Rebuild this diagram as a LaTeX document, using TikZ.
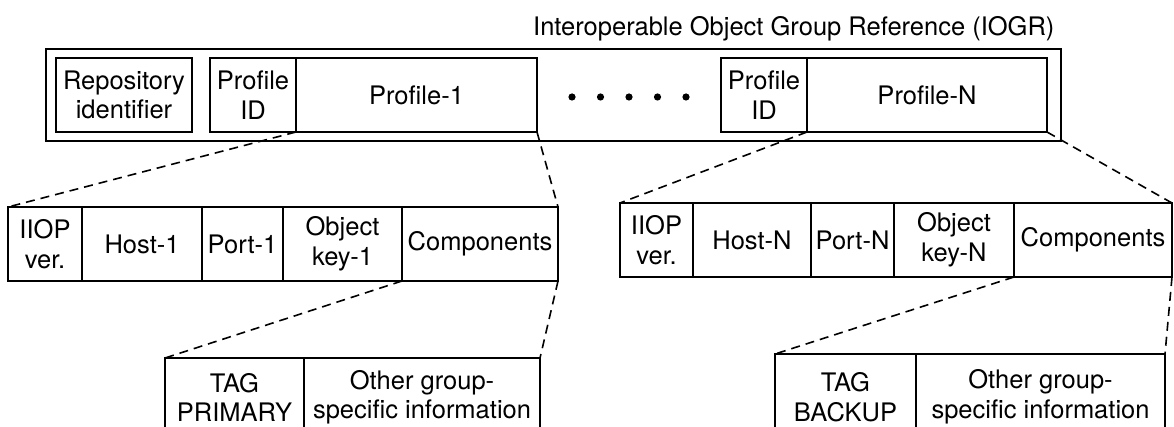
\documentclass[tikz,border=0pt]{standalone}
\usepackage{fontspec}
\setmainfont{TeX Gyre Heros}
\usetikzlibrary{positioning}

\begin{document}
\begin{tikzpicture}[
    x=1pt, y=-1pt,
    cell/.style={draw, line width=1.8pt, outer sep=0pt, inner sep=0pt,
      minimum height=74pt, align=center,
      font=\fontsize{25.5}{29.5}\selectfont},
    link/.style={line width=1.6pt, dash pattern=on 9pt off 6pt}
  ]
  \useasboundingbox (0,0) rectangle (1174,427);
  \clip (0,0) rectangle (1174,427);

  % IOGR
  \node[anchor=base east, font=\fontsize{25.5}{29.5}\selectfont] (title)
    at (1058,36) {Interoperable Object Group Reference (IOGR)};
  \node[cell, minimum width=1015pt, minimum height=92pt] (iogr)
    at (553.5,95) {};
  \node[cell, minimum width=136pt] (repo) at (124,95) {Repository\\identifier};
  \node[cell, minimum width=86pt] (pid1) at (253,95) {Profile\\ID};
  \node[cell, minimum width=241pt, right=0pt of pid1] (prof1) {Profile-1};
  \node[cell, minimum width=86pt] (pidN) at (764,95) {Profile\\ID};
  \node[cell, minimum width=240pt, right=0pt of pidN] (profN) {Profile-N};
  \foreach \i in {0,...,4}
    \fill (572+28.5*\i,97) circle (3.6pt);

  % profile 1
  \node[cell, minimum width=74pt] (iiop1) at (45,244) {IIOP\\ver.};
  \node[cell, minimum width=120pt, right=0pt of iiop1] (host1) {Host-1};
  \node[cell, minimum width=81pt, right=0pt of host1] (port1) {Port-1};
  \node[cell, minimum width=119pt, right=0pt of port1] (key1) {Object\\key-1};
  \node[cell, minimum width=156pt, right=0pt of key1] (comp1) {Components};

  % profile N
  \node[cell, minimum width=73pt] (iiopN) at (656.5,240) {IIOP\\ver.};
  \node[cell, minimum width=118pt, right=0pt of iiopN] (hostN) {Host-N};
  \node[cell, minimum width=83pt, right=0pt of hostN] (portN) {Port-N};
  \node[cell, minimum width=120pt, right=0pt of portN] (keyN) {Object\\key-N};
  \node[cell, minimum width=158pt, right=0pt of keyN] (compN) {Components};

  % tagged components
  \node[cell, minimum width=139pt, minimum height=79pt] (tag1)
    at (234.5,397.5) {TAG\\PRIMARY};
  \node[cell, minimum width=236pt, minimum height=79pt, right=0pt of tag1]
    (info1) {Other group-\\specific information};
  \node[cell, minimum width=141pt, minimum height=86pt] (tagN)
    at (845.5,397) {TAG\\BACKUP};
  \node[cell, minimum width=249pt, minimum height=86pt, right=0pt of tagN]
    (infoN) {Other group-\\specific information};

  % expansions
  \draw[link] (pid1.south east) -- (iiop1.north west);
  \draw[link] (prof1.south east) -- (comp1.north east);
  \draw[link] (pidN.south east) -- (iiopN.north west);
  \draw[link] (profN.south east) -- (compN.north east);
  \draw[link] (key1.south east) -- (tag1.north west);
  \draw[link] (comp1.south east) -- (info1.north east);
  \draw[link] (keyN.south east) -- (tagN.north west);
  \draw[link] (compN.south east) -- (infoN.north east);
\end{tikzpicture}
\end{document}
